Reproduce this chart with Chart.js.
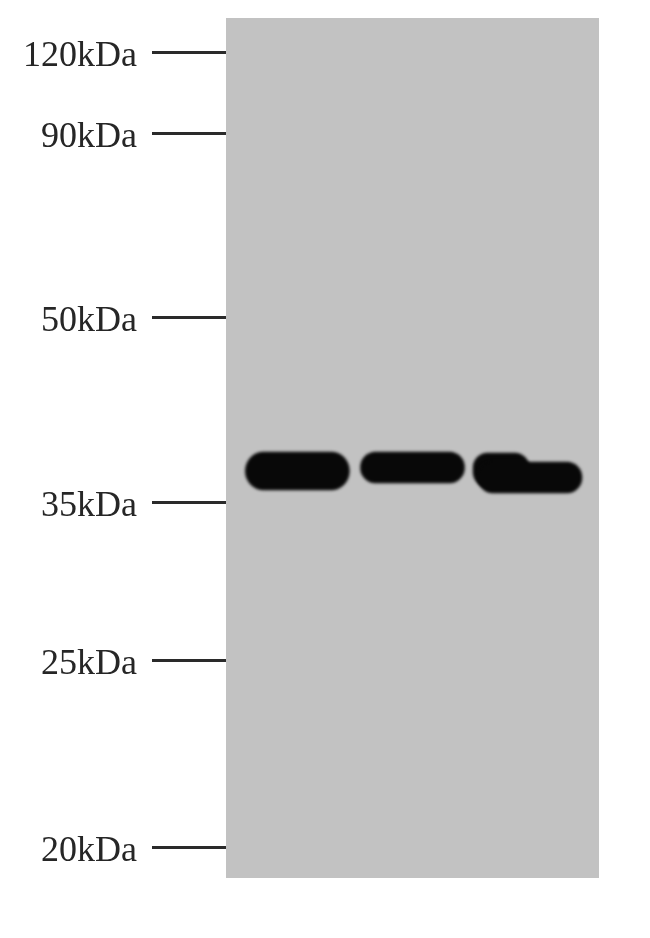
<!DOCTYPE html>
<html>
<head>
<meta charset="utf-8">
<script src="https://cdn.jsdelivr.net/npm/chart.js@4/dist/chart.umd.min.js"></script>
<style>
  html, body { margin: 0; padding: 0; background: #fff; }
  .wrap { width: 650px; height: 938px; }
</style>
</head>
<body>
<div class="wrap"><canvas id="blot"></canvas></div>
<script>
// marker ladder (migration measured down the membrane, 0 = top of panel)
const markerLabels = ['120kDa', '90kDa', '50kDa', '35kDa', '25kDa', '20kDa'];
const markerPos = [34, 115, 299, 484, 642, 829];

// bands: lane, top and bottom of the band
const bandLanes = [1, 2, 3.02];
const bandTop = [434, 434, 444];
const bandBottom = [472, 465, 475];

// lane 3 has a raised shoulder on its left side
const shoulderLanes = [2.77];
const shoulderTop = [435];
const shoulderBottom = [469];

const toPoints = (xs, tops, bottoms) => xs.map((x, i) => ({ x: x, y: [tops[i], bottoms[i]] }));

// gray membrane behind the bands
const membrane = {
  id: 'membrane',
  beforeDraw(chart) {
    const { ctx, chartArea: a } = chart;
    ctx.save();
    ctx.fillStyle = '#c2c2c2';
    ctx.fillRect(a.left, a.top, a.right - a.left, a.bottom - a.top);
    ctx.restore();
  },
  // soft edges on the bands
  beforeDatasetsDraw(chart) {
    chart.ctx.save();
    chart.ctx.filter = 'blur(1.8px)';
  },
  afterDatasetsDraw(chart) {
    chart.ctx.restore();
  }
};

new Chart(document.getElementById('blot'), {
  type: 'bar',
  data: {
    datasets: [
      {
        label: 'bands',
        data: toPoints(bandLanes, bandTop, bandBottom),
        backgroundColor: '#080808',
        barThickness: 104,
        borderRadius: 19,
        borderSkipped: false,
        grouped: false
      },
      {
        label: 'shoulder',
        data: toPoints(shoulderLanes, shoulderTop, shoulderBottom),
        backgroundColor: '#080808',
        barThickness: 56,
        borderRadius: 15,
        borderSkipped: false,
        grouped: false
      }
    ]
  },
  options: {
    responsive: true,
    maintainAspectRatio: false,
    animation: false,
    layout: { padding: { top: 18, right: 51, bottom: 60, left: 0 } },
    plugins: {
      legend: { display: false },
      tooltip: { enabled: false }
    },
    scales: {
      x: {
        type: 'linear',
        min: 0.38,
        max: 3.62,
        offset: false,
        display: false
      },
      y: {
        type: 'linear',
        min: 0,
        max: 860,
        reverse: true,
        afterFit: (scale) => {
          scale.width = 226;
          scale.paddingTop = 0;
          scale.paddingBottom = 0;
        },
        afterBuildTicks: (scale) => {
          scale.ticks = markerPos.map(v => ({ value: v }));
        },
        border: { display: false },
        grid: {
          drawOnChartArea: false,
          drawTicks: true,
          tickLength: 74,
          color: '#2a2a2a',
          lineWidth: 3
        },
        ticks: {
          padding: 15,
          labelOffset: 5,
          color: '#262626',
          font: { family: 'Liberation Serif', size: 36, lineHeight: 1 },
          callback: (value) => markerLabels[markerPos.indexOf(value)]
        }
      }
    }
  },
  plugins: [membrane]
});
</script>
</body>
</html>
